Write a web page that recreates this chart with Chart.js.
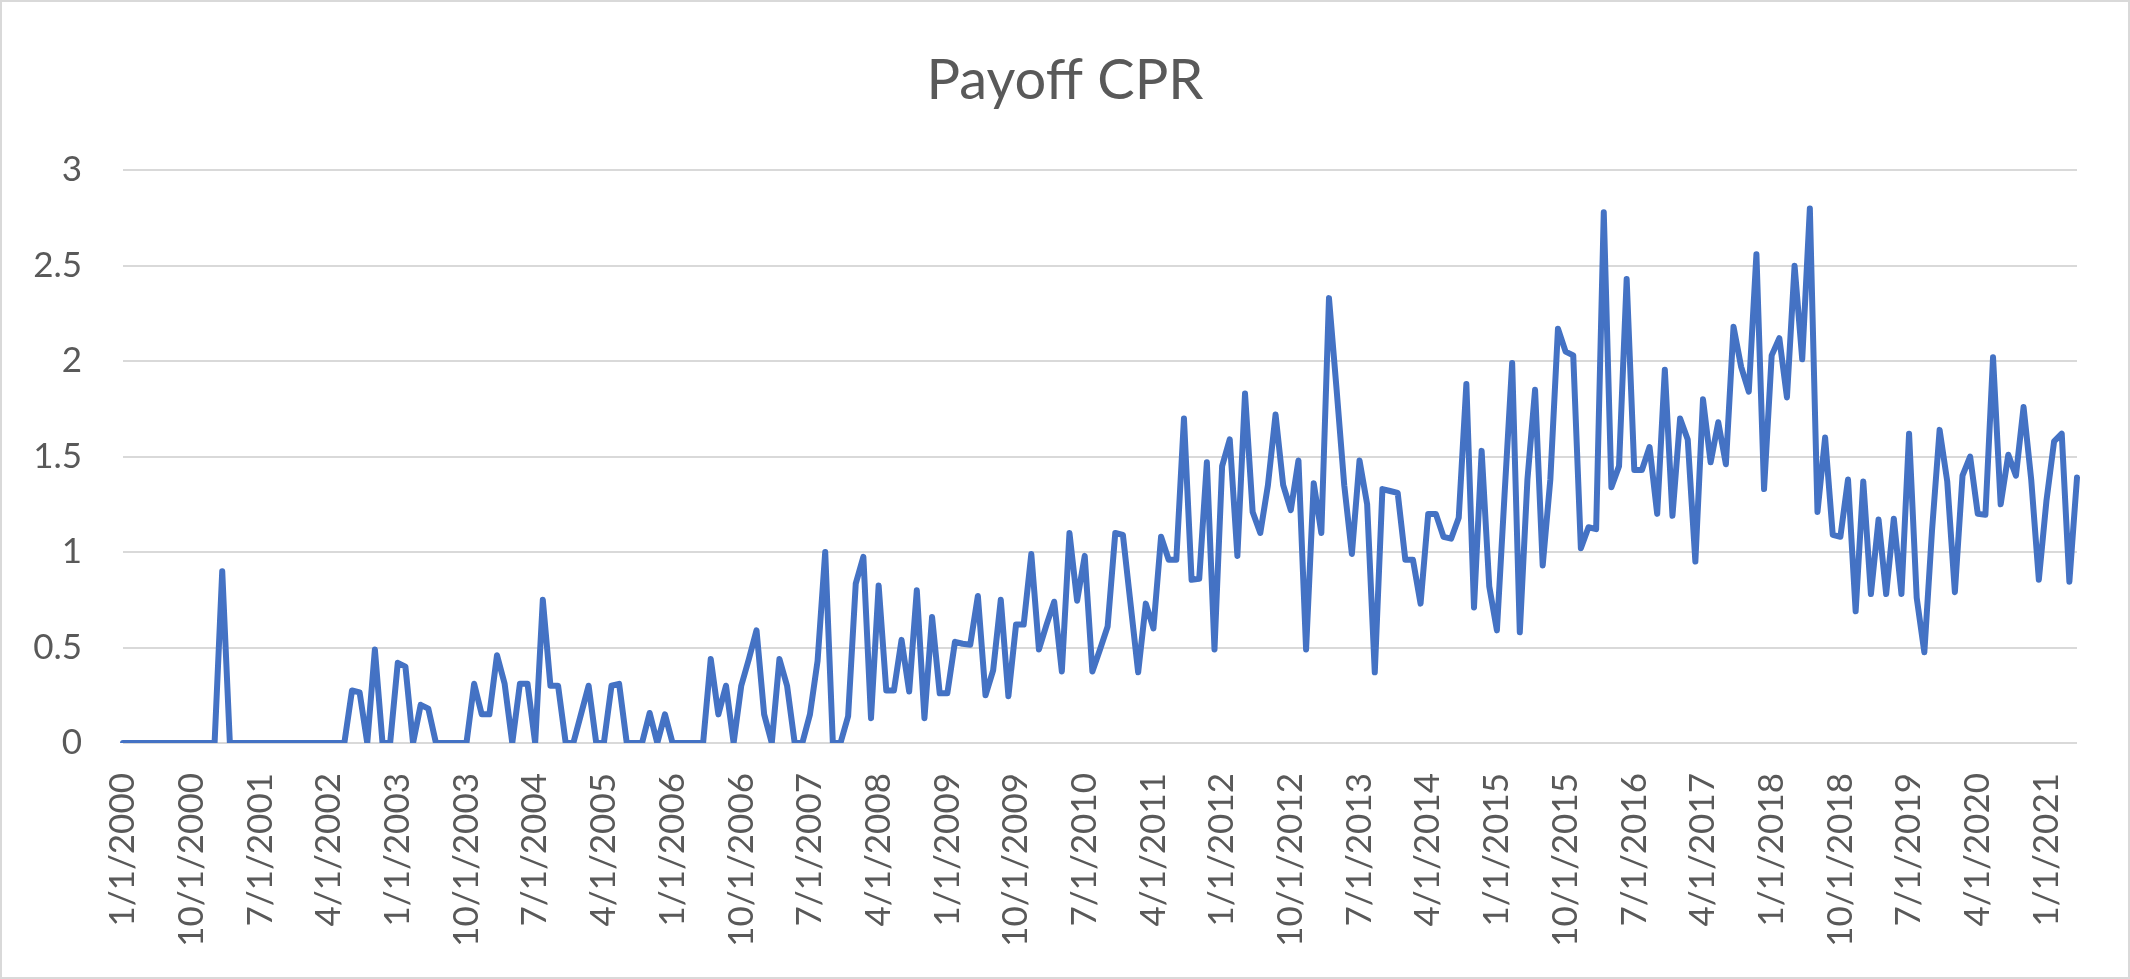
<!DOCTYPE html>
<html>
<head>
<meta charset="utf-8">
<title>Payoff CPR</title>
<script src="https://cdn.jsdelivr.net/npm/chart.js@4.4.1/dist/chart.umd.min.js"></script>
<style>
    html, body { margin: 0; padding: 0; background: #fff; }
    .wrap { position: relative; width: 2130px; height: 979px; }
    .frame { position: absolute; inset: 0; border: 2px solid #d9d9d9; pointer-events: none; }
</style>
</head>
<body>
<div class="wrap">
    <canvas id="cprChart" width="2130" height="979"></canvas>
    <div class="frame"></div>
</div>
<script>
// Monthly payoff CPR, Jan 2000 - May 2021
const payoffCpr = [
    0, 0, 0, 0, 0, 0, 0, 0, 0, 0, 0, 0,                                  // 2000
    0, 0.90, 0, 0, 0, 0, 0, 0, 0, 0, 0, 0,                               // 2001
    0, 0, 0, 0, 0, 0, 0.275, 0.265, 0, 0.49, 0, 0,                       // 2002
    0.42, 0.40, 0, 0.20, 0.18, 0, 0, 0, 0, 0, 0.31, 0.15,                // 2003
    0.15, 0.46, 0.31, 0, 0.31, 0.31, 0, 0.75, 0.30, 0.30, 0, 0,          // 2004
    0.15, 0.30, 0, 0, 0.30, 0.31, 0, 0, 0, 0.157, 0, 0.15,               // 2005
    0, 0, 0, 0, 0, 0.44, 0.15, 0.30, 0, 0.30, 0.44, 0.59,                // 2006
    0.15, 0, 0.44, 0.30, 0, 0, 0.15, 0.43, 1.00, 0, 0, 0.14,             // 2007
    0.835, 0.975, 0.13, 0.825, 0.275, 0.275, 0.54, 0.27, 0.80, 0.13, 0.66, 0.26,   // 2008
    0.26, 0.53, 0.52, 0.515, 0.77, 0.25, 0.38, 0.75, 0.245, 0.62, 0.62, 0.99,      // 2009
    0.49, 0.62, 0.74, 0.375, 1.10, 0.745, 0.98, 0.375, 0.49, 0.61, 1.10, 1.09,     // 2010
    0.73, 0.37, 0.73, 0.60, 1.08, 0.96, 0.96, 1.70, 0.855, 0.86, 1.47, 0.49,       // 2011
    1.45, 1.59, 0.98, 1.83, 1.21, 1.10, 1.35, 1.72, 1.35, 1.22, 1.48, 0.49,        // 2012
    1.36, 1.10, 2.33, 1.85, 1.35, 0.99, 1.48, 1.25, 0.37, 1.33, 1.32, 1.31,        // 2013
    0.96, 0.96, 0.73, 1.20, 1.20, 1.08, 1.07, 1.18, 1.88, 0.71, 1.53, 0.82,        // 2014
    0.59, 1.30, 1.99, 0.58, 1.38, 1.85, 0.93, 1.38, 2.17, 2.05, 2.03, 1.02,        // 2015
    1.13, 1.12, 2.78, 1.34, 1.45, 2.43, 1.43, 1.43, 1.55, 1.20, 1.955, 1.19,       // 2016
    1.70, 1.59, 0.95, 1.80, 1.47, 1.68, 1.46, 2.18, 1.97, 1.84, 2.56, 1.33,        // 2017
    2.03, 2.12, 1.81, 2.50, 2.01, 2.80, 1.21, 1.60, 1.09, 1.08, 1.38, 0.69,        // 2018
    1.37, 0.78, 1.17, 0.78, 1.175, 0.78, 1.62, 0.76, 0.475, 1.11, 1.64, 1.37,      // 2019
    0.79, 1.40, 1.50, 1.20, 1.195, 2.02, 1.25, 1.51, 1.40, 1.76, 1.38, 0.855,      // 2020
    1.27, 1.58, 1.62, 0.845, 1.39                                                  // 2021
];

// x axis tick labels shown (every 9th month)
const tickLabels = [
    '1/1/2000', '10/1/2000', '7/1/2001', '4/1/2002', '1/1/2003', '10/1/2003',
    '7/1/2004', '4/1/2005', '1/1/2006', '10/1/2006', '7/1/2007', '4/1/2008',
    '1/1/2009', '10/1/2009', '7/1/2010', '4/1/2011', '1/1/2012', '10/1/2012',
    '7/1/2013', '4/1/2014', '1/1/2015', '10/1/2015', '7/1/2016', '4/1/2017',
    '1/1/2018', '10/1/2018', '7/1/2019', '4/1/2020', '1/1/2021'
];

// y axis ticks
const yTicks = [0, 0.5, 1, 1.5, 2, 2.5, 3];

// one category per month, m/1/yyyy
const categories = [];
for (let i = 0; i < payoffCpr.length; i++) {
    categories.push((i % 12 + 1) + '/1/' + (2000 + Math.floor(i / 12)));
}

const textColor = '#595959';
const gridColor = '#d9d9d9';
const fontFamily = 'Lato, "Open Sans", sans-serif';

document.addEventListener('DOMContentLoaded', function() {
    const ctx = document.getElementById('cprChart').getContext('2d');

    new Chart(ctx, {
        type: 'line',
        data: {
            labels: categories,
            datasets: [{
                label: 'Payoff CPR',
                data: payoffCpr,
                yAxisID: 'y',
                borderColor: '#4472c4',
                backgroundColor: '#4472c4',
                borderWidth: 6,
                borderJoinStyle: 'round',
                borderCapStyle: 'round',
                pointRadius: 0,
                tension: 0,
                fill: false
            }]
        },
        options: {
            responsive: false,
            animation: false,
            devicePixelRatio: 1,
            layout: { padding: 0 },
            plugins: {
                legend: { display: false },
                tooltip: { enabled: false },
                title: {
                    display: true,
                    text: 'Payoff CPR',
                    color: textColor,
                    font: { family: fontFamily, size: 56, weight: 'normal', lineHeight: 1.2 },
                    padding: { top: 47, bottom: 56 }
                }
            },
            scales: {
                x: {
                    offset: false,
                    grid: { display: false },
                    border: { display: false },
                    ticks: {
                        autoSkip: false,
                        minRotation: 90,
                        maxRotation: 90,
                        padding: 22,
                        color: textColor,
                        font: { family: fontFamily, size: 35 },
                        callback: function(value, index) {
                            const lbl = categories[index];
                            return tickLabels.includes(lbl) ? lbl : '';
                        }
                    },
                    afterFit: function(scale) {
                        scale.height = 236;
                        scale.paddingLeft = 0;
                        scale.paddingRight = 0;
                    }
                },
                y: {
                    min: 0,
                    max: 3,
                    afterBuildTicks: function(scale) {
                        scale.ticks = yTicks.map(v => ({ value: v }));
                    },
                    grid: { color: gridColor, lineWidth: 2, drawTicks: false },
                    border: { display: false },
                    ticks: {
                        padding: 41,
                        color: textColor,
                        font: { family: fontFamily, size: 35 },
                        callback: v => String(v)
                    },
                    afterFit: function(scale) { scale.width = 123; }
                },
                // empty spacer on the right so the plot ends where the reference does
                yRight: {
                    position: 'right',
                    min: 0,
                    max: 3,
                    grid: { display: false },
                    border: { display: false },
                    ticks: { display: false },
                    afterFit: function(scale) { scale.width = 53; }
                }
            }
        }
    });
});
</script>
</body>
</html>
